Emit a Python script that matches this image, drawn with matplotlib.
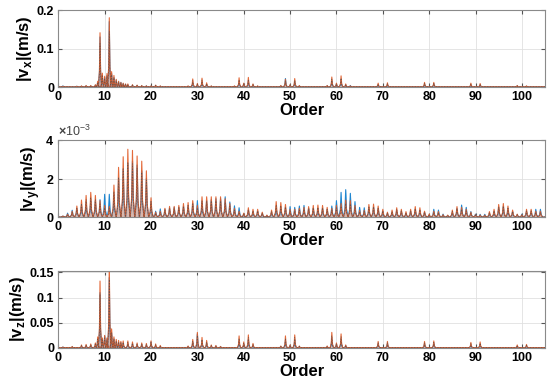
import numpy as np
import matplotlib
matplotlib.use("Agg")
import matplotlib.pyplot as plt
from matplotlib.ticker import ScalarFormatter

plt.rcParams['font.family'] = ['Liberation Sans', 'DejaVu Sans']
plt.rcParams['font.weight'] = 'bold'
plt.rcParams['mathtext.fontset'] = 'custom'
plt.rcParams['mathtext.rm'] = 'Liberation Sans:bold'
plt.rcParams['mathtext.bf'] = 'Liberation Sans:bold'

# --- data ---
# |v_x| peaks (m/s)
vx_orders = [1, 4, 5, 6, 7, 8, 8.5, 9, 9.5, 10, 10.5, 11, 11.5, 12, 12.5, 13, 13.5, 14, 14.5, 15,
             16, 17, 18, 19, 20, 21, 22, 28, 29, 30, 31, 32, 33, 38, 39, 40, 41, 42, 43, 48,
             49, 50, 51, 52, 58, 59, 60, 61, 62, 63, 69, 71, 79, 81, 89, 91, 99, 101]
vx_orange = [0.002, 0.002, 0.003, 0.004, 0.004, 0.006, 0.015, 0.141, 0.036, 0.028,
             0.035, 0.18, 0.04, 0.03, 0.02, 0.015, 0.012, 0.01, 0.008, 0.008,
             0.006, 0.005, 0.004, 0.003, 0.003, 0.005, 0.003, 0.003, 0.021, 0.009,
             0.023, 0.011, 0.003, 0.003, 0.024, 0.01, 0.025, 0.008, 0.003, 0.004,
             0.02, 0.006, 0.022, 0.004, 0.004, 0.026, 0.01, 0.029, 0.008, 0.003,
             0.01, 0.011, 0.012, 0.012, 0.01, 0.009, 0.004, 0.003]
vx_blue = [0.003, 0.002, 0.002, 0.003, 0.003, 0.005, 0.012, 0.13, 0.03, 0.025,
           0.03, 0.17, 0.035, 0.025, 0.018, 0.014, 0.012, 0.009, 0.007, 0.006,
           0.005, 0.004, 0.003, 0.003, 0.002, 0.004, 0.002, 0.002, 0.012, 0.006,
           0.014, 0.007, 0.002, 0.002, 0.015, 0.008, 0.016, 0.006, 0.002, 0.003,
           0.022, 0.005, 0.015, 0.003, 0.003, 0.018, 0.008, 0.02, 0.006, 0.004,
           0.006, 0.007, 0.008, 0.009, 0.006, 0.006, 0.003, 0.002]

# |v_y| peaks, one per order 1..104 (x 1e-3 m/s)
vy_orders = list(range(1, 105))
vy_orange = [0.05, 0.15, 0.3, 0.57, 0.88, 1.12, 1.28, 1.12, 0.85, 0.6,
             0.55, 1.66, 2.58, 3.13, 3.52, 3.46, 3.17, 2.9, 2.4, 1.0,
             0.25, 0.3, 0.45, 0.55, 0.55, 0.6, 0.7, 0.75, 0.85, 0.6,
             1.05, 1.05, 1.05, 1.05, 1.05, 0.95, 0.7, 0.45, 0.3, 0.2,
             0.48, 0.4, 0.4, 0.25, 0.1, 0.36, 0.8, 0.75, 0.65, 0.4,
             0.4, 0.45, 0.5, 0.54, 0.6, 0.62, 0.6, 0.5, 0.45, 0.6,
             0.7, 0.88, 0.85, 0.6, 0.35, 0.35, 0.65, 0.67, 0.57, 0.4,
             0.25, 0.36, 0.48, 0.4, 0.28, 0.4, 0.54, 0.48, 0.3, 0.15,
             0.3, 0.28, 0.12, 0.1, 0.36, 0.54, 0.5, 0.4, 0.25, 0.12,
             0.1, 0.1, 0.28, 0.4, 0.65, 0.7, 0.57, 0.36, 0.15, 0.12,
             0.4, 0.4, 0.3, 0.3]
vy_blue = [0.05, 0.2, 0.35, 0.45, 0.6, 0.8, 0.9, 0.85, 0.9, 1.18,
           1.18, 1.2, 2.0, 2.5, 2.8, 2.9, 2.7, 2.4, 2.0, 0.8,
           0.3, 0.42, 0.4, 0.45, 0.5, 0.5, 0.55, 0.6, 0.7, 0.85,
           0.8, 0.85, 0.9, 0.95, 0.95, 1.05, 0.78, 0.58, 0.48, 0.15,
           0.35, 0.3, 0.3, 0.2, 0.08, 0.25, 0.5, 0.5, 0.5, 0.54,
           0.5, 0.57, 0.6, 0.45, 0.45, 0.45, 0.45, 0.4, 0.57, 0.85,
           1.28, 1.42, 1.23, 0.8, 0.5, 0.48, 0.5, 0.5, 0.45, 0.3,
           0.2, 0.25, 0.35, 0.3, 0.2, 0.3, 0.4, 0.35, 0.25, 0.1,
           0.4, 0.36, 0.15, 0.08, 0.25, 0.45, 0.62, 0.5, 0.28, 0.15,
           0.14, 0.14, 0.2, 0.3, 0.5, 0.55, 0.45, 0.28, 0.12, 0.15,
           0.3, 0.3, 0.4, 0.4]

# |v_z| peaks (m/s)
vz_orders = [1, 3, 5, 6, 7, 8, 8.5, 9, 9.5, 10, 10.5, 11, 11.5, 12, 12.5, 13, 13.5, 14, 15, 16,
             17, 18, 19, 20, 21, 22, 28, 29, 30, 31, 32, 33, 34, 35, 39, 40, 41, 42, 48, 49,
             50, 51, 52, 58, 59, 60, 61, 62, 69, 71, 79, 81, 89, 91, 99, 101]
vz_orange = [0.002, 0.003, 0.006, 0.007, 0.008, 0.01, 0.022, 0.133, 0.02, 0.025,
             0.02, 0.17, 0.038, 0.022, 0.017, 0.015, 0.013, 0.014, 0.014, 0.012,
             0.01, 0.01, 0.009, 0.014, 0.008, 0.005, 0.004, 0.017, 0.031, 0.021,
             0.015, 0.006, 0.005, 0.003, 0.024, 0.012, 0.026, 0.009, 0.004, 0.024,
             0.006, 0.026, 0.004, 0.004, 0.031, 0.01, 0.028, 0.006, 0.013, 0.013,
             0.013, 0.014, 0.011, 0.012, 0.006, 0.007]
vz_blue = [0.002, 0.002, 0.004, 0.005, 0.006, 0.008, 0.018, 0.11, 0.018, 0.024,
           0.018, 0.14, 0.03, 0.018, 0.013, 0.011, 0.01, 0.01, 0.009, 0.008,
           0.007, 0.007, 0.006, 0.012, 0.005, 0.003, 0.003, 0.012, 0.028, 0.015,
           0.01, 0.004, 0.004, 0.003, 0.015, 0.008, 0.017, 0.006, 0.003, 0.015,
           0.005, 0.017, 0.003, 0.003, 0.02, 0.008, 0.018, 0.005, 0.009, 0.009,
           0.009, 0.01, 0.007, 0.008, 0.004, 0.005]

BLUE = '#1f86d0'
ORANGE = '#e05a25'


def spike_line(orders, heights, floor, w):
    # each peak drawn as a spike with a skirt at 30 % height
    xs, ys = [0.0], [floor]
    for o, h in zip(orders, heights):
        xs += [o - w, o - 0.35 * w, o, o + 0.35 * w, o + w]
        ys += [floor, 0.3 * h, h, 0.3 * h, floor]
    xs.append(105.0)
    ys.append(floor)
    return np.array(xs), np.array(ys)


def draw(ax, orders, blue, orange, floor, w, scale=1.0):
    bx, by = spike_line(orders, blue, floor, w)
    ox, oy = spike_line(orders, orange, floor, w)
    ax.fill_between(bx, 0, by * scale, color=BLUE, alpha=0.35, lw=0)
    ax.plot(bx, by * scale, color=BLUE, lw=0.8)
    ax.fill_between(ox, 0, oy * scale, color='#f4a582', alpha=0.6, lw=0)
    ax.plot(ox, oy * scale, color=ORANGE, lw=0.8, alpha=0.9)
    ax.plot(ox, oy * scale * 0.8, color='#4a4a4a', lw=0.5, ls=(0, (2, 2)), alpha=0.7)


fig = plt.figure(figsize=(5.5, 3.84), dpi=100)
L, W, H = 0.106, 0.885, 0.2005
ax1 = fig.add_axes([L, 0.7734, W, H])
ax2 = fig.add_axes([L, 0.4349, W, H])
ax3 = fig.add_axes([L, 0.0938, W, H])

draw(ax1, vx_orders, vx_blue, vx_orange, 0.0008, 0.35)
draw(ax2, vy_orders, vy_blue, vy_orange, 0.00004, 0.48, scale=1e-3)
draw(ax3, vz_orders, vz_blue, vz_orange, 0.0008, 0.35)

ax1.set_ylim(0, 0.2)
ax1.set_yticks([0, 0.1, 0.2])
ax1.set_yticklabels(['0', '0.1', '0.2'])
ax2.set_ylim(0, 0.004)
ax2.set_yticks([0, 0.002, 0.004])
fmt = ScalarFormatter(useMathText=True)
fmt.set_powerlimits((-2, 2))
ax2.yaxis.set_major_formatter(fmt)
ax2.yaxis.get_offset_text().set_fontsize(9)
ax2.yaxis.get_offset_text().set_fontweight('normal')
ax2.yaxis.get_offset_text().set_color('#444444')
ax3.set_ylim(0, 0.153)
ax3.set_yticks([0, 0.05, 0.1, 0.15])
ax3.set_yticklabels(['0', '0.05', '0.1', '0.15'])

labels = [r'|v$_{\mathbf{x}}$|(m/s)', r'|v$_{\mathbf{y}}$|(m/s)', r'|v$_{\mathbf{z}}$|(m/s)']
for ax, lab in zip([ax1, ax2, ax3], labels):
    ax.set_xlim(0, 105)
    ax.set_xticks(range(0, 101, 10))
    ax.grid(True, color='#e0e0e0', lw=0.6)
    ax.set_axisbelow(True)
    ax.tick_params(direction='in', top=True, right=True, labelsize=9, length=3,
                   color='#555555', pad=3)
    for s in ax.spines.values():
        s.set_color('#8a8a8a')
        s.set_linewidth(0.8)
    ax.set_xlabel('Order', fontsize=12, fontweight='bold', labelpad=0)
    ax.set_ylabel(lab, fontsize=12, fontweight='bold', labelpad=2)

fig.savefig('out.png', dpi=100)
